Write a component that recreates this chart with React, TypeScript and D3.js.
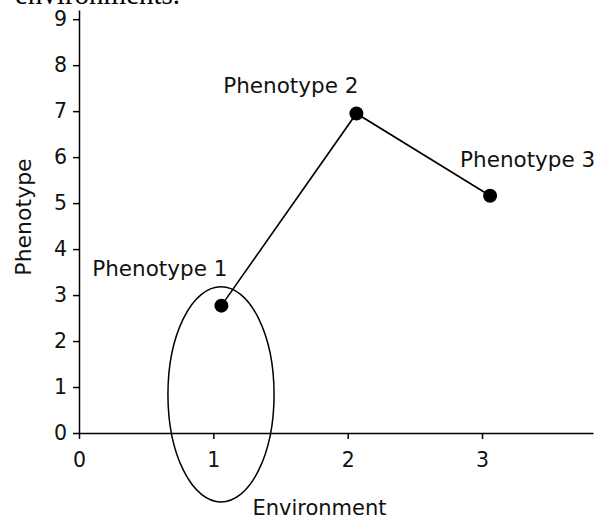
import React, { useEffect, useRef } from 'react';
import * as d3 from 'd3';

// environment (x) and phenotype (y) of each observed point
const labels = ['Phenotype 1', 'Phenotype 2', 'Phenotype 3'];
const envValues = [1.06, 2.065, 3.06];
const phenoValues = [2.77, 6.95, 5.16];

const xTicks = [0, 1, 2, 3];
const yTicks = [0, 1, 2, 3, 4, 5, 6, 7, 8, 9];

// ellipse drawn round phenotype 1: centre and radii in data units
const ringCenter = [1.057, 0.84];
const ringRadius = [0.395, 2.34];

const FONT = '"DejaVu Sans", sans-serif';

const App = () => {
    const ref = useRef<SVGSVGElement>(null);

    useEffect(() => {
        const width = 603;
        const height = 524;
        const margin = { top: 10, right: 10, bottom: 91, left: 79 };

        const x = d3.scaleLinear()
            .domain([0, 3.826])
            .range([margin.left, width - margin.right]);

        const y = d3.scaleLinear()
            .domain([0, 9.2])
            .range([height - margin.bottom, margin.top]);

        const svg = d3.select(ref.current)
            .attr('width', width)
            .attr('height', height);
        svg.selectAll('*').remove();

        // bit of page text cut off at the top
        svg.append('text')
            .attr('x', 15)
            .attr('y', 3.5)
            .attr('font-family', '"Liberation Serif", serif')
            .attr('font-size', 29)
            .text('environments.');

        const xAxis = g => g
            .attr('transform', `translate(0,${y(0)})`)
            .call(d3.axisBottom(x).tickValues(xTicks).tickFormat(d3.format('d'))
                .tickSize(6).tickPadding(13).tickSizeOuter(0));

        const yAxis = g => g
            .attr('transform', `translate(${x(0)},0)`)
            .call(d3.axisLeft(y).tickValues(yTicks).tickFormat(d3.format('d'))
                .tickSize(6).tickPadding(6).tickSizeOuter(0));

        [svg.append('g').call(xAxis), svg.append('g').call(yAxis)].forEach(g => {
            g.selectAll('path, line').attr('stroke', '#000').attr('stroke-width', 1.5);
            g.selectAll('text')
                .attr('font-family', FONT)
                .attr('font-size', 20.5)
                .attr('fill', '#111');
        });

        svg.append('text')
            .attr('x', x(1.79))
            .attr('y', 515)
            .attr('text-anchor', 'middle')
            .attr('font-family', FONT)
            .attr('font-size', 21)
            .attr('fill', '#111')
            .text('Environment');

        svg.append('text')
            .attr('transform', 'translate(31,217) rotate(-90)')
            .attr('text-anchor', 'middle')
            .attr('font-family', FONT)
            .attr('font-size', 22)
            .attr('fill', '#111')
            .text('Phenotype');

        const points = labels.map((label, i) => ({ label, env: envValues[i], value: phenoValues[i] }));

        const line = d3.line()
            .x(d => x(d.env))
            .y(d => y(d.value));

        svg.append('path')
            .datum(points)
            .attr('d', line)
            .attr('fill', 'none')
            .attr('stroke', '#000')
            .attr('stroke-width', 1.6);

        svg.append('ellipse')
            .attr('cx', x(ringCenter[0]))
            .attr('cy', y(ringCenter[1]))
            .attr('rx', x(ringCenter[0] + ringRadius[0]) - x(ringCenter[0]))
            .attr('ry', y(ringCenter[1]) - y(ringCenter[1] + ringRadius[1]))
            .attr('fill', 'none')
            .attr('stroke', '#000')
            .attr('stroke-width', 1.5);

        svg.append('g')
            .selectAll('circle')
            .data(points)
            .join('circle')
            .attr('cx', d => x(d.env))
            .attr('cy', d => y(d.value))
            .attr('r', 7)
            .attr('fill', '#000');

        // label offsets from each point, in pixels
        const labelOffset = [[6, -30], [2, -20], [-30, -29]];
        const labelAnchor = ['end', 'end', 'start'];

        svg.append('g')
            .selectAll('text')
            .data(points)
            .join('text')
            .attr('x', (d, i) => x(d.env) + labelOffset[i][0])
            .attr('y', (d, i) => y(d.value) + labelOffset[i][1])
            .attr('text-anchor', (d, i) => labelAnchor[i])
            .attr('font-family', FONT)
            .attr('font-size', 21.5)
            .attr('fill', '#111')
            .text(d => d.label);
    }, []);

    return (
        <div style={{ position: 'absolute', left: 0, top: 0 }}>
            <svg ref={ref} style={{ display: 'block' }} />
        </div>
    );
};

export default App;
